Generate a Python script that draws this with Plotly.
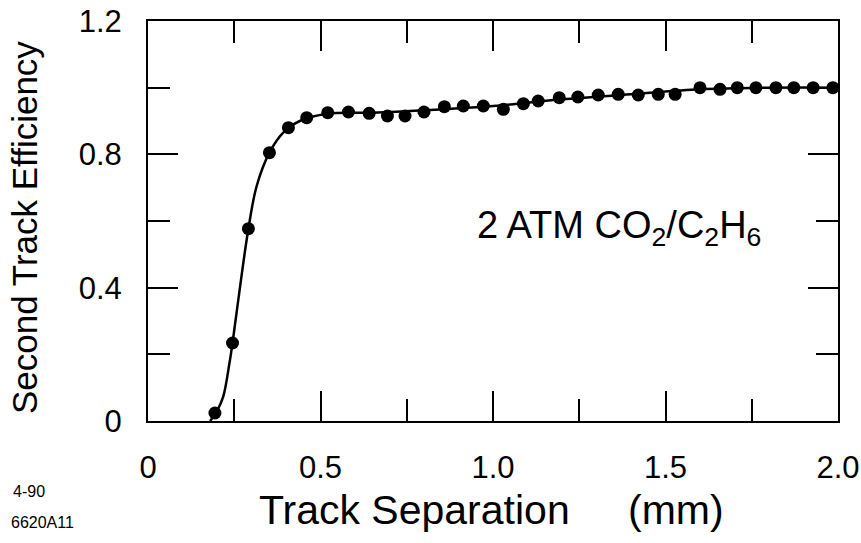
import plotly.graph_objects as go

# Measured second-track efficiency vs. track separation
sep_mm = [0.194, 0.245, 0.291, 0.352, 0.407, 0.460, 0.521, 0.581, 0.641, 0.694,
          0.745, 0.800, 0.859, 0.914, 0.972, 1.030, 1.088, 1.131, 1.192, 1.246,
          1.305, 1.363, 1.421, 1.479, 1.528, 1.600, 1.658, 1.708, 1.762, 1.820,
          1.872, 1.928, 1.985]
efficiency = [0.024, 0.234, 0.577, 0.805, 0.880, 0.910, 0.925, 0.927, 0.923, 0.915,
              0.915, 0.927, 0.943, 0.945, 0.945, 0.935, 0.952, 0.960, 0.970, 0.972,
              0.978, 0.980, 0.978, 0.980, 0.980, 1.000, 0.995, 1.000, 1.000, 1.000,
              1.000, 1.000, 1.000]

# Smooth fitted curve through the data
fit_x = [0.180, 0.200, 0.218, 0.236, 0.245, 0.267, 0.291, 0.315, 0.352, 0.392,
         0.440, 0.520, 0.650, 0.800, 1.000, 1.200, 1.400, 1.600, 1.800, 2.000]
fit_y = [0.000, 0.030, 0.073, 0.173, 0.234, 0.404, 0.577, 0.705, 0.805, 0.865,
         0.900, 0.922, 0.925, 0.932, 0.945, 0.965, 0.980, 0.995, 1.000, 1.000]

x_tickvals = [0, 0.5, 1.0, 1.5, 2.0]
x_ticktext = ["0", "0.5", "1.0", "1.5", "2.0"]
y_tickvals = [0, 0.4, 0.8, 1.2]
y_ticktext = ["0", "0.4", "0.8", "1.2"]

FONT = "Liberation Sans, Arial, Helvetica, sans-serif"
W, H = 861, 543
M_L, M_R, M_T, M_B = 148, 23, 21, 122
PLOT_W = W - M_L - M_R
PLOT_H = H - M_T - M_B


def px_x(px):
    """Pixel column -> paper x (paper spans the plotting area)."""
    return (px - M_L) / PLOT_W


def px_y(py):
    """Pixel row -> paper y."""
    return (H - M_B - py) / PLOT_H


fig = go.Figure()
fig.add_trace(go.Scatter(
    x=fit_x, y=fit_y, mode="lines",
    line=dict(color="black", width=2.5, shape="spline", smoothing=1.0),
    hoverinfo="skip", showlegend=False,
))
fig.add_trace(go.Scatter(
    x=sep_mm, y=efficiency, mode="markers",
    marker=dict(color="black", size=13, line=dict(width=0)),
    showlegend=False,
))

axis_common = dict(
    showline=True, linecolor="black", linewidth=2, mirror="ticks",
    ticks="inside", tickcolor="black", tickwidth=2, ticklen=30,
    showgrid=False, zeroline=False, automargin=False,
    ticklabeloverflow="allow",
    tickfont=dict(family=FONT, size=31, color="black"),
)

fig.update_xaxes(
    range=[0, 2.0], tickvals=x_tickvals, ticktext=x_ticktext,
    minor=dict(dtick=0.25, tick0=0, ticks="inside", ticklen=22,
               tickwidth=2, tickcolor="black", showgrid=False),
    ticklabelstandoff=18,
    **axis_common,
)
fig.update_yaxes(
    range=[0, 1.2], tickvals=y_tickvals, ticktext=y_ticktext,
    minor=dict(dtick=0.2, tick0=0, ticks="inside", ticklen=22,
               tickwidth=2, tickcolor="black", showgrid=False),
    ticklabelstandoff=18,
    **axis_common,
)

annotations = [
    # gas mixture label
    dict(x=1.365, y=0.58, xref="x", yref="y", showarrow=False,
         text="2 ATM CO<sub>2</sub>/C<sub>2</sub>H<sub>6</sub>",
         font=dict(family=FONT, size=38, color="black")),
    # x-axis title, unit set apart
    dict(x=px_x(414), y=px_y(510), xref="paper", yref="paper", showarrow=False,
         text="Track Separation", xanchor="center", yanchor="middle",
         font=dict(family=FONT, size=41, color="black")),
    dict(x=px_x(676), y=px_y(510), xref="paper", yref="paper", showarrow=False,
         text="(mm)", xanchor="center", yanchor="middle",
         font=dict(family=FONT, size=41, color="black")),
    # y-axis title
    dict(x=px_x(24), y=px_y(228), xref="paper", yref="paper", showarrow=False,
         text="Second Track Efficiency", textangle=-90,
         xanchor="center", yanchor="middle", borderpad=0,
         font=dict(family=FONT, size=35, color="black")),
    # figure code
    dict(x=px_x(11), y=px_y(491), xref="paper", yref="paper", showarrow=False,
         text="4-90", xanchor="left", yanchor="middle",
         font=dict(family=FONT, size=16, color="black")),
    dict(x=px_x(9), y=px_y(522), xref="paper", yref="paper", showarrow=False,
         text="6620A11", xanchor="left", yanchor="middle",
         font=dict(family=FONT, size=16, color="black")),
]
fig.update_layout(
    width=W, height=H,
    margin=dict(l=M_L, r=M_R, t=M_T, b=M_B, autoexpand=False),
    paper_bgcolor="white", plot_bgcolor="white",
    annotations=annotations,
)

fig.write_html("out.html")
